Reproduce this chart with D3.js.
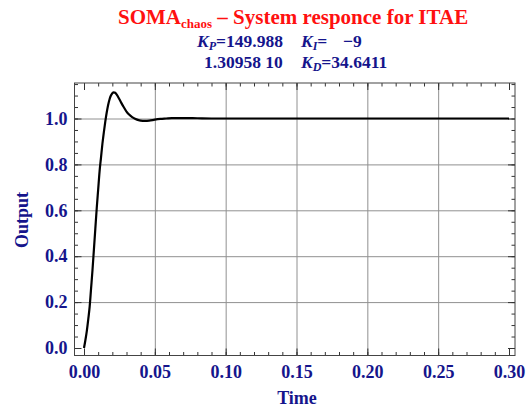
<!DOCTYPE html>
<html>
<head>
<meta charset="utf-8">
<script src="https://cdn.jsdelivr.net/npm/d3@7"></script>
<style>
  body { margin: 0; background: #fff; }
  svg { display: block; }
  text { font-family: "Liberation Serif", "Times New Roman", serif; font-weight: bold; }
</style>
</head>
<body>
<svg id="chart" width="526" height="409"></svg>
<script>
// ---- data ----
const timeValues = [0, 0.001, 0.002, 0.003, 0.004, 0.005, 0.006, 0.007, 0.008, 0.009,
  0.010, 0.011, 0.012, 0.013, 0.014, 0.015, 0.016, 0.017, 0.018, 0.019,
  0.020, 0.021, 0.022, 0.023, 0.024, 0.026, 0.028, 0.030, 0.032, 0.034,
  0.036, 0.038, 0.040, 0.043, 0.046, 0.050, 0.054, 0.058, 0.062, 0.066,
  0.070, 0.080, 0.090, 0.10, 0.15, 0.20, 0.25, 0.30];
const outputValues = [0, 0.035, 0.075, 0.125, 0.18, 0.26, 0.34, 0.43, 0.52, 0.61,
  0.69, 0.77, 0.83, 0.89, 0.94, 0.985, 1.025, 1.058, 1.083, 1.100,
  1.110, 1.114, 1.112, 1.105, 1.095, 1.072, 1.050, 1.030, 1.016, 1.006,
  0.999, 0.994, 0.991, 0.990, 0.991, 0.995, 0.998, 1.000, 1.002, 1.002,
  1.002, 1.001, 1.000, 1.000, 1.000, 1.000, 1.000, 1.000];
const xMajorTicks = [0, 0.05, 0.10, 0.15, 0.20, 0.25, 0.30];
const xTickLabels = ["0.00", "0.05", "0.10", "0.15", "0.20", "0.25", "0.30"];
const xGridTicks = [0.05, 0.10, 0.15, 0.20, 0.25];
const xMinorTicks = d3.range(0, 31).map(i => i / 100);
const yMajorTicks = [0, 0.2, 0.4, 0.6, 0.8, 1.0];
const yTickLabels = ["0.0", "0.2", "0.4", "0.6", "0.8", "1.0"];
const yGridTicks = [0.2, 0.4, 0.6, 0.8, 1.0];
const yMinorTicks = d3.range(0, 24).map(i => i / 20);

const titleMain = "SOMA";
const titleSub = "chaos";
const titleRest = " \u2013 System responce for ITAE";
const xLabel = "Time";
const yLabel = "Output";

// ---- layout ----
const svg = d3.select("#chart");
const frame = { left: 74.5, right: 515, top: 83, bottom: 355.5 };
const x = d3.scaleLinear().domain([0, 0.30]).range([84, 509]);
const y = d3.scaleLinear().domain([0, 1]).range([348, 118.5]);
const navy = "#15158c";
const W = frame.right - frame.left, H = frame.bottom - frame.top;

// gridlines
svg.append("g").attr("transform", `translate(0,${frame.bottom})`)
  .call(d3.axisBottom(x).tickValues(xGridTicks).tickSize(-H).tickFormat(""))
  .call(g => g.select(".domain").remove())
  .call(g => g.selectAll("line").attr("stroke", "#909090").attr("stroke-width", 1));
svg.append("g").attr("transform", `translate(${frame.left},0)`)
  .call(d3.axisLeft(y).tickValues(yGridTicks).tickSize(-W).tickFormat(""))
  .call(g => g.select(".domain").remove())
  .call(g => g.selectAll("line").attr("stroke", "#909090").attr("stroke-width", 1));

// ticks (inward) on all 4 sides
function tickAxis(axisFn, scale, vals, size, transform) {
  svg.append("g").attr("transform", transform)
    .call(axisFn(scale).tickValues(vals).tickSize(-size).tickFormat(""))
    .call(g => g.select(".domain").remove())
    .call(g => g.selectAll("line").attr("stroke", "#333").attr("stroke-width", 1));
}
tickAxis(d3.axisBottom, x, xMinorTicks, 3.5, `translate(0,${frame.bottom})`);
tickAxis(d3.axisBottom, x, xMajorTicks, 7, `translate(0,${frame.bottom})`);
tickAxis(d3.axisTop, x, xMinorTicks, 3.5, `translate(0,${frame.top})`);
tickAxis(d3.axisTop, x, xMajorTicks, 7, `translate(0,${frame.top})`);
tickAxis(d3.axisLeft, y, yMinorTicks, 3.5, `translate(${frame.left},0)`);
tickAxis(d3.axisLeft, y, yMajorTicks, 7, `translate(${frame.left},0)`);
tickAxis(d3.axisRight, y, yMinorTicks, 3.5, `translate(${frame.right},0)`);
tickAxis(d3.axisRight, y, yMajorTicks, 7, `translate(${frame.right},0)`);

// tick labels
svg.append("g").attr("transform", `translate(0,${frame.bottom})`)
  .call(d3.axisBottom(x).tickValues(xMajorTicks).tickSize(0).tickPadding(10)
    .tickFormat((d, i) => xTickLabels[i]))
  .call(g => g.select(".domain").remove())
  .call(g => g.selectAll("text").attr("fill", navy).style("font-size", "18px")
    .style("font-family", "'Liberation Serif', serif").style("font-weight", "bold"));
svg.append("g").attr("transform", `translate(${frame.left},0)`)
  .call(d3.axisLeft(y).tickValues(yMajorTicks).tickSize(0).tickPadding(7)
    .tickFormat((d, i) => yTickLabels[i]))
  .call(g => g.select(".domain").remove())
  .call(g => g.selectAll("text").attr("fill", navy).style("font-size", "18px")
    .style("font-family", "'Liberation Serif', serif").style("font-weight", "bold"));

// frame
svg.append("rect").attr("x", frame.left).attr("y", frame.top)
  .attr("width", W).attr("height", H)
  .attr("fill", "none").attr("stroke", "#444").attr("stroke-width", 1);

// curve
const pts = timeValues.map((t, i) => [t, outputValues[i]]);
svg.append("path").datum(pts)
  .attr("fill", "none").attr("stroke", "#000").attr("stroke-width", 2.2)
  .attr("stroke-linejoin", "round")
  .attr("d", d3.line().x(d => x(d[0])).y(d => y(d[1])).curve(d3.curveMonotoneX));

// title
const t = svg.append("text").attr("x", 118).attr("y", 24).attr("fill", "#ff1010")
  .style("font-size", "21px");
t.append("tspan").text(titleMain);
t.append("tspan").attr("dy", 4).style("font-size", "13px").text(titleSub);
t.append("tspan").attr("dy", -4).text(titleRest);

// parameters
function kText(xp, yp, sub, rest) {
  const el = svg.append("text").attr("x", xp).attr("y", yp).attr("fill", navy)
    .style("font-size", "17.5px");
  el.append("tspan").style("font-style", "italic").text("K");
  el.append("tspan").style("font-style", "italic").style("font-size", "12px")
    .attr("dy", 3).text(sub);
  el.append("tspan").attr("dy", -3).text(rest);
}
kText(197, 47, "P", "=149.988");
kText(301, 47, "I", "=");
svg.append("text").attr("x", 343).attr("y", 47).attr("fill", navy)
  .style("font-size", "17.5px").text("\u22129");
svg.append("text").attr("x", 204).attr("y", 68).attr("fill", navy)
  .style("font-size", "17.5px").text("1.30958 10");
kText(301, 68, "D", "=34.6411");

// axis titles
svg.append("text").attr("x", 297).attr("y", 404).attr("text-anchor", "middle")
  .attr("fill", navy).style("font-size", "18px").text(xLabel);
svg.append("text").attr("transform", "translate(28,220) rotate(-90)")
  .attr("text-anchor", "middle").attr("fill", navy).style("font-size", "18px").text(yLabel);
</script>
</body>
</html>
